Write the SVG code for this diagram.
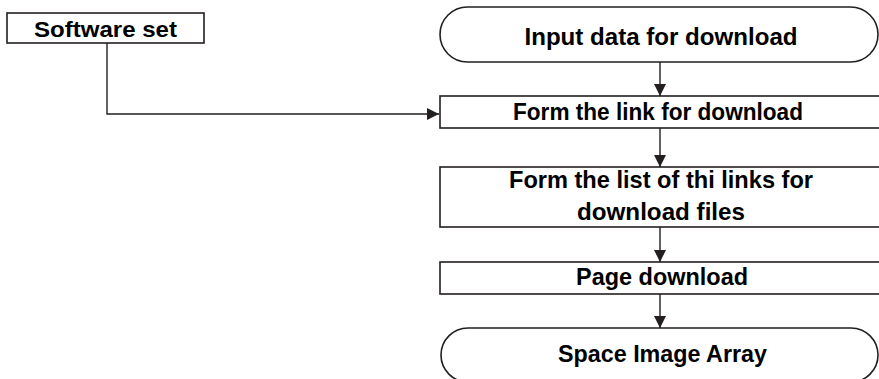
<svg xmlns="http://www.w3.org/2000/svg" width="879" height="379" viewBox="0 0 879 379">
<style>
.shape{fill:#fff;stroke:#231f20;stroke-width:1.6}
.lbl{font-family:"Liberation Sans",Arial,sans-serif;font-weight:bold;font-size:24px;fill:#000;text-anchor:middle}
.conn{fill:none;stroke:#231f20;stroke-width:1.4}
</style>
<defs>
<marker id="arr" viewBox="0 0 12 12" refX="12" refY="6" markerWidth="12" markerHeight="12" markerUnits="userSpaceOnUse" orient="auto">
<path d="M0,0 L12,6 L0,12 z" fill="#231f20"/>
</marker>
</defs>
<rect x="0" y="0" width="879" height="379" fill="#fff"/>
<g id="connectors">
<path class="conn" d="M107,43 V114 H439" marker-end="url(#arr)"/>
<path class="conn" d="M660,62 V96" marker-end="url(#arr)"/>
<path class="conn" d="M660,128 V167" marker-end="url(#arr)"/>
<path class="conn" d="M660,227 V262" marker-end="url(#arr)"/>
<path class="conn" d="M660,294 V328" marker-end="url(#arr)"/>
</g>
<g id="software-set">
<rect class="shape" x="7" y="13" width="197" height="30"/>
<text class="lbl" x="105.5" y="37" style="font-size:22px" textLength="143" lengthAdjust="spacingAndGlyphs">Software set</text>
</g>
<g id="input-data">
<path class="shape" d="M467.5,7 H850.5 A27.5,27.5 0 0 1 850.5,62 H467.5 A27.5,27.5 0 0 1 467.5,7 z"/>
<text class="lbl" x="661" y="45" textLength="273" lengthAdjust="spacingAndGlyphs">Input data for download</text>
</g>
<g id="form-link">
<rect class="shape" x="440" y="96" width="450" height="32"/>
<text class="lbl" x="658" y="120" textLength="290" lengthAdjust="spacingAndGlyphs">Form the link for download</text>
</g>
<g id="form-list">
<rect class="shape" x="440" y="167" width="450" height="60"/>
<text class="lbl" x="661" y="188" textLength="304" lengthAdjust="spacingAndGlyphs">Form the list of thi links for</text>
<text class="lbl" x="661" y="220" textLength="168" lengthAdjust="spacingAndGlyphs">download files</text>
</g>
<g id="page-download">
<rect class="shape" x="440" y="262" width="450" height="32"/>
<text class="lbl" x="662" y="285" textLength="172" lengthAdjust="spacingAndGlyphs">Page download</text>
</g>
<g id="space-image-array">
<path class="shape" d="M468,328 H851 A27,27 0 0 1 851,382 H468 A27,27 0 0 1 468,328 z"/>
<text class="lbl" x="662.5" y="362" textLength="209" lengthAdjust="spacingAndGlyphs">Space Image Array</text>
</g>
</svg>
